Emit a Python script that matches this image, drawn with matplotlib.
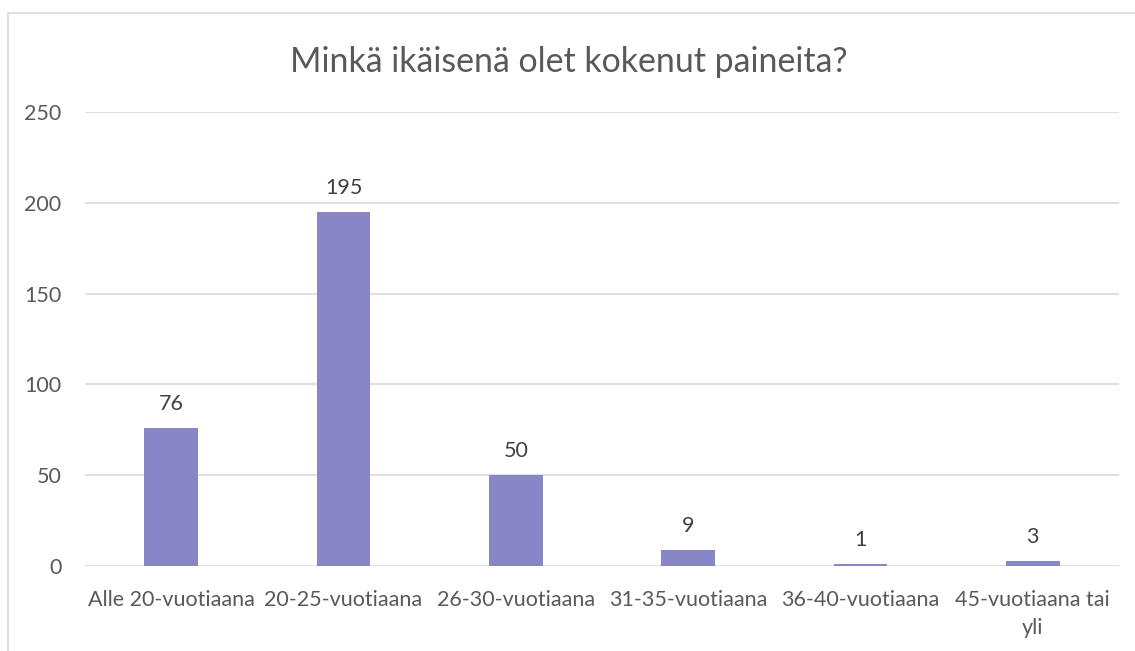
import matplotlib
matplotlib.use("Agg")
import matplotlib.pyplot as plt
from matplotlib.patches import Rectangle

categories = ["Alle 20-vuotiaana", "20-25-vuotiaana", "26-30-vuotiaana",
              "31-35-vuotiaana", "36-40-vuotiaana", "45-vuotiaana tai\nyli"]
values = [76, 195, 50, 9, 1, 3]
yticks = [0, 50, 100, 150, 200, 250]
title = "Minkä ikäisenä olet kokenut paineita?"

plt.rcParams['font.family'] = ['Lato', 'DejaVu Sans']

W, H = 1135, 651
fig = plt.figure(figsize=(W / 100, H / 100), dpi=100)
fig.patch.set_facecolor("white")

# outer chart border
fig.patches.append(Rectangle((8 / W, -0.05), 1.1, 1 - 13 / H + 0.05,
                             transform=fig.transFigure, fill=False,
                             edgecolor="#D9D9D9", linewidth=1.2))

ax = fig.add_axes([85 / W, 1 - 566 / H, (1119 - 85) / W, (566 - 112) / H])
x = list(range(len(categories)))
ax.bar(x, values, width=0.31, color="#8786C6", zorder=3)
ax.set_xlim(-0.5, len(categories) - 0.5)
ax.set_ylim(0, 250)
ax.set_yticks(yticks)
ax.set_yticklabels([str(t) for t in yticks])
ax.set_xticks(x)
ax.set_xticklabels(categories, linespacing=1.55)
ax.yaxis.grid(True, color="#D9D9D9", linewidth=1.2, zorder=0)
for s in ax.spines.values():
    s.set_visible(False)
ax.tick_params(axis="both", length=0, labelsize=15.5, colors="#595959")
ax.tick_params(axis="y", pad=17)
ax.tick_params(axis="x", pad=17)

for xi, v in zip(x, values):
    ax.annotate(str(v), (xi, v), xytext=(0, 10), textcoords="offset points",
                ha="center", va="bottom", fontsize=15.5, color="#404040")

fig.text(569 / W, 1 - 62 / H, title, ha="center", va="center",
         fontsize=24.4, color="#595959")

fig.savefig("out.png", dpi=100, facecolor="white")
